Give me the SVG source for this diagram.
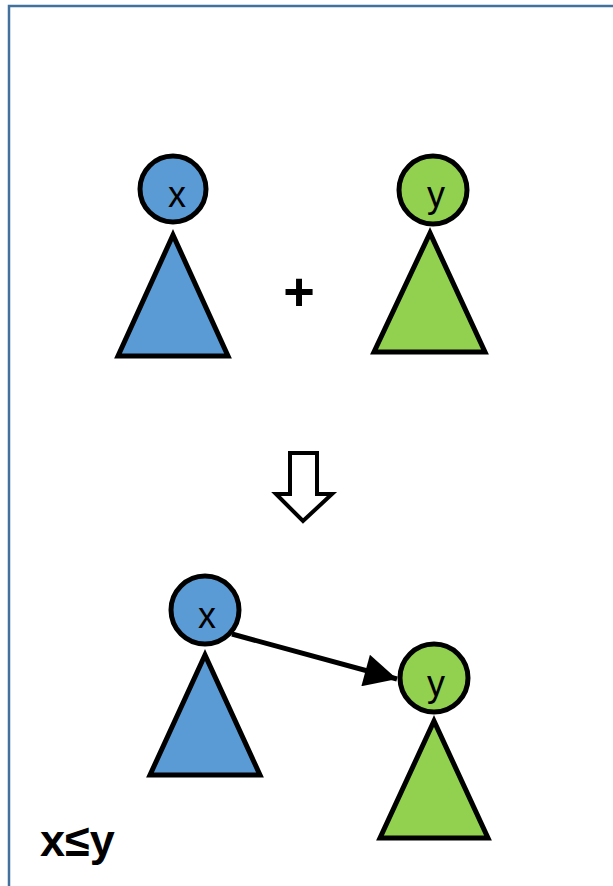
<svg xmlns="http://www.w3.org/2000/svg" width="613" height="886" viewBox="0 0 613 886">
<style>
.blue{fill:#5b9bd5;stroke:#000;stroke-width:5}
.green{fill:#92d050;stroke:#000;stroke-width:5}
.lbl{font-family:"Liberation Sans",Arial,sans-serif;font-size:36px;fill:#000;text-anchor:middle}
.bold{font-family:"Liberation Sans",Arial,sans-serif;font-weight:bold;fill:#000}
</style>
<defs>
<marker id="ah" viewBox="0 0 10 10" refX="10" refY="5" markerWidth="8" markerHeight="6.5" markerUnits="strokeWidth" orient="auto">
<path d="M0,0 L10,5 L0,10 Z" fill="#000"/>
</marker>
</defs>
<rect width="613" height="886" fill="#fff"/>
<path d="M9,886 V6 H613" fill="none" stroke="#41719c" stroke-width="2.5"/>
<g id="tree-x-top">
<polygon class="blue" points="173,235 118,356 228,356"/>
<circle class="blue" cx="173" cy="189" r="33"/>
<text class="lbl" x="177" y="207">x</text>
</g>
<g id="plus"><text class="bold" x="299" y="310" font-size="54" text-anchor="middle">+</text></g>
<g id="tree-y-top">
<polygon class="green" points="430,233 374,352 485,352"/>
<circle class="green" cx="433" cy="190" r="34"/>
<text class="lbl" x="436" y="207">y</text>
</g>
<g id="down-arrow">
<polygon points="290,453 317,453 317,494 332,494 303,521 276,494 290,494" fill="#fff" stroke="#000" stroke-width="4" stroke-linejoin="miter"/>
</g>
<g id="tree-x-bottom">
<polygon class="blue" points="205,655 150,775 260,775"/>
<circle class="blue" cx="205" cy="610" r="34"/>
<text class="lbl" x="207" y="628">x</text>
</g>
<g id="tree-y-bottom">
<polygon class="green" points="434,721 380,838 488,838"/>
<circle class="green" cx="434" cy="678" r="34"/>
<text class="lbl" x="436" y="696">y</text>
</g>
<g id="connectors">
<line x1="232" y1="634" x2="397" y2="679" stroke="#000" stroke-width="5" marker-end="url(#ah)"/>
</g>
<g id="caption"><text class="bold" x="40" y="856" font-size="45">x≤y</text></g>
</svg>
